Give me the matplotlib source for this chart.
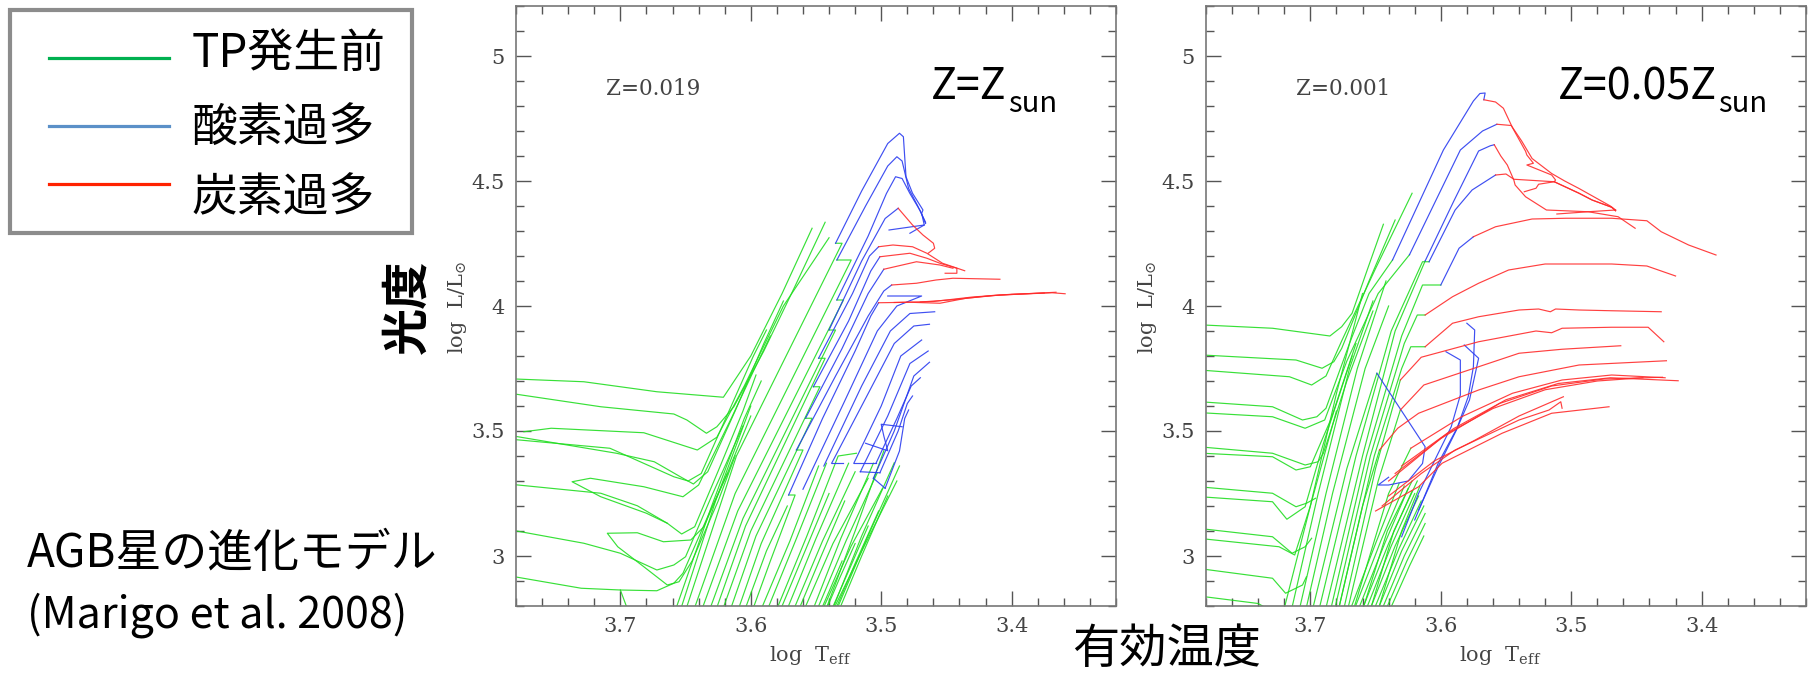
import matplotlib
matplotlib.use("Agg")
import matplotlib.pyplot as plt
from matplotlib.patches import Rectangle
from matplotlib.lines import Line2D
from matplotlib.ticker import MultipleLocator, FormatStrFormatter

W, H = 1810, 673
JP = ["Noto Sans CJK JP", "DejaVu Sans"]
SERIF = ["DejaVu Serif"]
plt.rcParams["mathtext.fontset"] = "dejavuserif"

GREEN = "#22dd22"
BLUE = "#2a3cf0"
RED = "#ff2b2b"

legend_labels = ["TP発生前", "酸素過多", "炭素過多"]
legend_colors = ["#00b050", "#5b90c8", "#ff2200"]
panel_tags = ["Z=0.019", "Z=0.001"]
panel_titles = ["Z=Z", "Z=0.05Z"]

# ---- Z = 0.019 : tracks as (log Teff, log L) vertices ----
solar_pre_tp = [
    [(3.790, 3.710), (3.728, 3.697), (3.672, 3.657), (3.621, 3.635), (3.600, 3.80), (3.576, 4.05), (3.553, 4.311)],
    [(3.790, 3.655), (3.715, 3.597), (3.659, 3.568), (3.649, 3.544), (3.634, 3.491), (3.626, 3.517), (3.613, 3.597),
     (3.590, 3.82), (3.566, 4.08), (3.543, 4.335)],
    [(3.774, 3.497), (3.753, 3.511), (3.682, 3.493), (3.641, 3.424), (3.626, 3.475), (3.605, 3.68), (3.575, 4.00), (3.540, 4.273)],
    [(3.790, 3.487), (3.703, 3.411), (3.674, 3.377), (3.654, 3.317), (3.644, 3.288), (3.633, 3.337), (3.612, 3.58),
     (3.590, 3.85), (3.575, 4.02)],
    [(3.790, 3.470), (3.708, 3.431), (3.659, 3.317), (3.648, 3.300), (3.638, 3.330), (3.615, 3.60), (3.598, 3.80), (3.588, 3.904)],
    [(3.790, 3.290), (3.715, 3.251), (3.687, 3.201), (3.664, 3.131), (3.653, 3.088), (3.643, 3.117), (3.625, 3.34),
     (3.606, 3.58), (3.596, 3.724)],
    [(3.585, 3.880), (3.597, 3.750), (3.615, 3.550), (3.640, 3.284), (3.652, 3.237), (3.682, 3.277), (3.723, 3.311),
     (3.737, 3.297), (3.715, 3.237), (3.680, 3.171), (3.664, 3.131)],
    [(3.790, 3.110), (3.728, 3.051), (3.700, 3.011), (3.672, 2.944), (3.659, 2.964), (3.650, 2.997), (3.630, 3.24),
     (3.612, 3.45), (3.606, 3.52)],
    [(3.600, 3.560), (3.618, 3.330), (3.636, 3.117), (3.646, 3.064), (3.667, 3.057), (3.687, 3.093), (3.710, 3.091),
     (3.702, 3.037), (3.682, 2.957), (3.664, 2.884), (3.655, 2.897), (3.645, 2.98), (3.625, 3.22), (3.612, 3.40)],
    [(3.790, 2.925), (3.730, 2.871), (3.700, 2.864), (3.672, 2.861), (3.659, 2.891), (3.652, 2.931), (3.632, 3.17), (3.618, 3.33)],
    [(3.700, 2.864), (3.694, 2.780)],
    # steep branches ending at the first pulse
    [(3.601, 2.75), (3.585, 2.98), (3.566, 3.244), (3.571, 3.244)],
    [(3.612, 2.75), (3.592, 3.05), (3.560, 3.424), (3.565, 3.424)],
    [(3.618, 2.75), (3.596, 3.08), (3.553, 3.551), (3.558, 3.551)],
    [(3.624, 2.75), (3.600, 3.10), (3.547, 3.677), (3.552, 3.677)],
    [(3.629, 2.75), (3.604, 3.12), (3.543, 3.791), (3.548, 3.791)],
    [(3.634, 2.75), (3.606, 3.15), (3.535, 3.904), (3.540, 3.904)],
    [(3.640, 2.75), (3.610, 3.18), (3.529, 4.024), (3.534, 4.024)],
    [(3.646, 2.75), (3.612, 3.25), (3.523, 4.184), (3.534, 4.184)],
    [(3.652, 2.75), (3.611, 3.40), (3.530, 4.251), (3.535, 4.251)],
    [(3.660, 2.75), (3.630, 3.20), (3.605, 3.55), (3.592, 3.70)],
    [(3.656, 2.75), (3.627, 3.22), (3.600, 3.60)],
    [(3.607, 2.75), (3.588, 3.02), (3.572, 3.20)],
    # low mass bundle
    [(3.595, 2.75), (3.570, 3.06), (3.548, 3.360)],
    [(3.590, 2.75), (3.565, 3.07), (3.542, 3.371)],
    [(3.583, 2.75), (3.557, 3.08), (3.533, 3.400), (3.519, 3.411)],
    [(3.575, 2.75), (3.550, 3.07), (3.525, 3.371)],
    [(3.570, 2.75), (3.545, 3.06), (3.520, 3.337)],
    [(3.562, 2.75), (3.537, 3.05), (3.510, 3.311)],
    [(3.555, 2.75), (3.531, 3.07), (3.506, 3.371)],
    [(3.552, 2.75), (3.527, 3.06), (3.503, 3.333)],
    [(3.548, 2.75), (3.523, 3.04), (3.499, 3.271)],
    [(3.545, 2.75), (3.520, 3.10), (3.498, 3.421)],
    [(3.540, 2.75), (3.515, 3.08), (3.490, 3.373)],
    [(3.537, 2.75), (3.511, 3.07), (3.486, 3.360)],
    [(3.540, 2.75), (3.513, 3.04), (3.488, 3.300)],
    [(3.535, 2.75), (3.515, 3.00), (3.495, 3.240)],
    [(3.538, 2.75), (3.520, 2.97), (3.502, 3.180)],
    [(3.541, 2.75), (3.525, 2.94), (3.510, 3.120)],
    [(3.545, 2.75), (3.532, 2.91), (3.520, 3.050)],
    [(3.549, 2.75), (3.539, 2.87), (3.530, 2.980)],
    [(3.580, 2.75), (3.560, 3.00), (3.540, 3.250)],
    [(3.566, 2.75), (3.546, 3.00), (3.528, 3.220)],
]

solar_o_rich = [
    [(3.571, 3.244), (3.545, 3.55), (3.520, 3.82), (3.508, 3.96), (3.502, 4.013)],
    [(3.565, 3.424), (3.535, 3.72), (3.510, 3.96), (3.498, 4.06), (3.492, 4.084)],
    [(3.558, 3.551), (3.530, 3.83), (3.510, 4.05), (3.498, 4.147)],
    [(3.552, 3.677), (3.525, 3.94), (3.508, 4.14), (3.501, 4.197)],
    [(3.548, 3.791), (3.522, 4.05), (3.509, 4.20), (3.502, 4.237)],
    [(3.540, 3.904), (3.515, 4.18), (3.497, 4.35), (3.487, 4.391)],
    [(3.534, 4.024), (3.510, 4.28), (3.496, 4.45), (3.489, 4.517), (3.484, 4.51), (3.478, 4.45), (3.470, 4.38), (3.466, 4.330)],
    [(3.534, 4.184), (3.512, 4.40), (3.495, 4.56), (3.488, 4.597), (3.484, 4.58), (3.479, 4.47), (3.472, 4.40), (3.466, 4.335)],
    [(3.535, 4.251), (3.515, 4.46), (3.495, 4.65), (3.486, 4.691), (3.483, 4.677), (3.481, 4.517), (3.476, 4.451),
     (3.468, 4.384), (3.469, 4.371), (3.467, 4.324), (3.494, 4.304)],
    [(3.478, 4.291), (3.467, 4.324)],
    [(3.560, 3.267), (3.528, 3.62), (3.503, 3.90), (3.488, 4.00), (3.469, 4.040), (3.495, 4.040)],
    [(3.544, 3.360), (3.515, 3.68), (3.493, 3.90), (3.478, 3.97), (3.459, 3.977)],
    [(3.538, 3.371), (3.510, 3.65), (3.490, 3.85), (3.475, 3.92), (3.463, 3.927)],
    [(3.521, 3.371), (3.500, 3.60), (3.485, 3.80), (3.469, 3.864)],
    [(3.516, 3.337), (3.495, 3.56), (3.478, 3.77), (3.464, 3.820)],
    [(3.506, 3.311), (3.490, 3.50), (3.475, 3.72), (3.463, 3.775)],
    [(3.504, 3.371), (3.488, 3.55), (3.477, 3.68), (3.470, 3.713)],
    [(3.501, 3.333), (3.487, 3.50), (3.480, 3.61), (3.476, 3.640)],
    [(3.497, 3.271), (3.486, 3.42), (3.482, 3.55), (3.479, 3.584)],
    [(3.512, 3.451), (3.495, 3.421), (3.498, 3.48), (3.500, 3.527), (3.484, 3.517)],
    [(3.538, 3.371), (3.529, 3.371)],
    [(3.521, 3.371), (3.504, 3.371)],
    [(3.516, 3.337), (3.501, 3.333)],
    [(3.506, 3.311), (3.497, 3.271)],
]

solar_c_rich = [
    [(3.502, 4.013), (3.478, 4.015), (3.455, 4.011), (3.435, 4.031), (3.409, 4.044), (3.369, 4.053), (3.359, 4.049)],
    [(3.490, 4.014), (3.460, 4.018), (3.430, 4.036), (3.400, 4.047), (3.375, 4.052)],
    [(3.470, 4.016), (3.445, 4.025), (3.415, 4.042), (3.385, 4.050), (3.366, 4.055)],
    [(3.492, 4.084), (3.473, 4.091), (3.458, 4.104), (3.445, 4.111), (3.409, 4.107)],
    [(3.498, 4.147), (3.473, 4.177), (3.455, 4.164), (3.445, 4.151)],
    [(3.501, 4.197), (3.478, 4.211), (3.465, 4.191), (3.455, 4.171), (3.442, 4.151), (3.442, 4.131), (3.451, 4.131)],
    [(3.502, 4.237), (3.491, 4.244), (3.476, 4.237), (3.465, 4.211), (3.453, 4.171), (3.436, 4.141)],
    [(3.487, 4.391), (3.476, 4.324), (3.468, 4.284), (3.460, 4.251), (3.459, 4.231), (3.464, 4.211)],
]

# ---- Z = 0.001 ----
poor_pre_tp = [
    [(3.790, 3.926), (3.729, 3.911), (3.685, 3.880), (3.676, 3.917), (3.668, 3.971), (3.656, 4.15), (3.644, 4.327)],
    [(3.790, 3.806), (3.711, 3.784), (3.691, 3.751), (3.682, 3.777), (3.676, 3.83), (3.655, 4.10), (3.635, 4.344)],
    [(3.790, 3.746), (3.716, 3.717), (3.699, 3.684), (3.688, 3.72), (3.676, 3.86), (3.650, 4.15), (3.622, 4.451)],
    [(3.790, 3.619), (3.729, 3.597), (3.706, 3.544), (3.695, 3.557), (3.688, 3.591), (3.670, 3.85), (3.655, 4.05), (3.637, 4.184)],
    [(3.790, 3.575), (3.729, 3.557), (3.704, 3.511), (3.689, 3.544), (3.672, 3.78), (3.648, 4.05), (3.624, 4.205)],
    [(3.790, 3.439), (3.729, 3.411), (3.704, 3.364), (3.694, 3.377), (3.690, 3.411), (3.672, 3.70), (3.652, 3.98)],
    [(3.790, 3.413), (3.729, 3.397), (3.711, 3.344), (3.700, 3.357), (3.684, 3.55), (3.665, 3.85)],
    [(3.790, 3.279), (3.729, 3.251), (3.711, 3.197), (3.703, 3.211), (3.696, 3.231)],
    [(3.790, 3.239), (3.729, 3.217), (3.718, 3.147), (3.704, 3.197), (3.690, 3.45), (3.668, 3.80)],
    [(3.790, 3.113), (3.729, 3.077), (3.714, 3.011), (3.704, 3.037), (3.699, 3.071)],
    [(3.790, 3.073), (3.724, 3.037), (3.712, 3.004), (3.700, 3.20), (3.680, 3.58)],
    [(3.790, 2.953), (3.729, 2.911), (3.719, 2.851), (3.706, 2.884), (3.703, 2.917)],
    [(3.790, 2.843), (3.740, 2.810), (3.730, 2.780)],
    [(3.690, 2.75), (3.660, 3.40), (3.635, 3.90), (3.612, 4.180)],
    [(3.695, 2.75), (3.665, 3.40), (3.638, 3.90), (3.614, 4.177), (3.609, 4.177)],
    [(3.686, 2.75), (3.657, 3.40), (3.630, 3.88), (3.614, 4.084), (3.600, 4.084)],
    [(3.683, 2.75), (3.654, 3.40), (3.628, 3.85), (3.618, 3.964), (3.612, 3.964)],
    [(3.680, 2.75), (3.651, 3.40), (3.630, 3.75), (3.623, 3.837), (3.612, 3.837)],
    [(3.676, 2.75), (3.650, 3.35), (3.631, 3.704)],
    [(3.673, 2.75), (3.648, 3.30), (3.631, 3.584)],
    [(3.700, 2.75), (3.672, 3.35), (3.649, 3.731)],
    [(3.680, 2.75), (3.660, 3.20), (3.647, 3.424)],
    [(3.669, 2.75), (3.640, 3.25), (3.623, 3.431)],
    [(3.722, 2.75), (3.700, 3.20), (3.680, 3.65), (3.660, 4.05)],
    [(3.716, 2.75), (3.694, 3.25), (3.670, 3.75), (3.652, 4.02)],
    [(3.710, 2.75), (3.688, 3.25), (3.664, 3.75), (3.642, 4.10)],
    [(3.705, 2.75), (3.683, 3.25), (3.658, 3.75), (3.640, 4.00)],
    # low mass bundle
    [(3.672, 2.75), (3.650, 3.05), (3.632, 3.29)],
    [(3.669, 2.75), (3.646, 3.06), (3.628, 3.28)],
    [(3.666, 2.75), (3.643, 3.05), (3.625, 3.27)],
    [(3.663, 2.75), (3.640, 3.05), (3.622, 3.26)],
    [(3.660, 2.75), (3.638, 3.04), (3.620, 3.25)],
    [(3.657, 2.75), (3.635, 3.04), (3.617, 3.24)],
    [(3.654, 2.75), (3.632, 3.03), (3.615, 3.22)],
    [(3.651, 2.75), (3.630, 3.02), (3.613, 3.20)],
    [(3.648, 2.75), (3.628, 3.00), (3.612, 3.17)],
    [(3.645, 2.75), (3.626, 2.98), (3.612, 3.13)],
    [(3.642, 2.75), (3.624, 2.96), (3.613, 3.08)],
    [(3.662, 2.75), (3.641, 3.10), (3.622, 3.30)],
    [(3.656, 2.75), (3.636, 3.10), (3.618, 3.30)],
    [(3.650, 2.75), (3.630, 3.10), (3.616, 3.28)],
]

poor_o_rich = [
    [(3.637, 4.184), (3.598, 4.624), (3.575, 4.820), (3.570, 4.850), (3.566, 4.852), (3.567, 4.825)],
    [(3.624, 4.205), (3.585, 4.624), (3.568, 4.700), (3.557, 4.727)],
    [(3.612, 4.180), (3.590, 4.420), (3.571, 4.620), (3.562, 4.641), (3.559, 4.645)],
    [(3.609, 4.177), (3.589, 4.384), (3.576, 4.464), (3.558, 4.524)],
    [(3.600, 4.084), (3.586, 4.231), (3.575, 4.277)],
    [(3.649, 3.731), (3.612, 3.437), (3.614, 3.370), (3.625, 3.300), (3.640, 3.284), (3.648, 3.284), (3.640, 3.315)],
    [(3.596, 3.817), (3.585, 3.784), (3.585, 3.644), (3.592, 3.517), (3.602, 3.411), (3.617, 3.251), (3.630, 3.077)],
    [(3.580, 3.931), (3.574, 3.904), (3.575, 3.757), (3.579, 3.637), (3.588, 3.504), (3.602, 3.357), (3.617, 3.184)],
    [(3.582, 3.844), (3.571, 3.791), (3.578, 3.624), (3.587, 3.517), (3.602, 3.371), (3.620, 3.144)],
]

poor_c_rich = [
    [(3.567, 4.825), (3.558, 4.816), (3.552, 4.791), (3.545, 4.713), (3.535, 4.619), (3.534, 4.604), (3.529, 4.571),
     (3.534, 4.564), (3.515, 4.524), (3.512, 4.504), (3.513, 4.497), (3.494, 4.451), (3.484, 4.424), (3.469, 4.395), (3.466, 4.381)],
    [(3.557, 4.727), (3.546, 4.722), (3.538, 4.660), (3.530, 4.590), (3.515, 4.530), (3.505, 4.500), (3.494, 4.470),
     (3.470, 4.400), (3.466, 4.384)],
    [(3.559, 4.645), (3.554, 4.600), (3.549, 4.564), (3.544, 4.504), (3.543, 4.484), (3.535, 4.437), (3.519, 4.384),
     (3.487, 4.377), (3.466, 4.384)],
    [(3.558, 4.524), (3.550, 4.528), (3.544, 4.507), (3.513, 4.497), (3.494, 4.451), (3.484, 4.424), (3.469, 4.395), (3.466, 4.381)],
    [(3.536, 4.457), (3.527, 4.471), (3.525, 4.487), (3.513, 4.497)],
    [(3.511, 4.368), (3.487, 4.377), (3.464, 4.357), (3.451, 4.311)],
    [(3.575, 4.277), (3.558, 4.317), (3.530, 4.348), (3.504, 4.351), (3.469, 4.351), (3.442, 4.341), (3.431, 4.297),
     (3.410, 4.244), (3.389, 4.204)],
    [(3.612, 3.964), (3.591, 4.037), (3.571, 4.091), (3.548, 4.144), (3.520, 4.168), (3.494, 4.168), (3.469, 4.168),
     (3.442, 4.160), (3.420, 4.120)],
    [(3.612, 3.837), (3.591, 3.931), (3.571, 3.957), (3.540, 3.984), (3.525, 3.988), (3.516, 3.977), (3.512, 3.988),
     (3.494, 3.984), (3.469, 3.981), (3.431, 3.977)],
    [(3.631, 3.704), (3.615, 3.795), (3.571, 3.857), (3.527, 3.900), (3.515, 3.893), (3.507, 3.911), (3.469, 3.915),
     (3.441, 3.915), (3.429, 3.857)],
    [(3.631, 3.584), (3.613, 3.684), (3.571, 3.757), (3.540, 3.811), (3.507, 3.827), (3.462, 3.841)],
    [(3.647, 3.424), (3.633, 3.511), (3.617, 3.571), (3.571, 3.664), (3.540, 3.717), (3.494, 3.764), (3.427, 3.781)],
    [(3.623, 3.431), (3.584, 3.557), (3.545, 3.651), (3.507, 3.704), (3.469, 3.724), (3.428, 3.713)],
    [(3.630, 3.360), (3.590, 3.510), (3.550, 3.625), (3.510, 3.690), (3.470, 3.713), (3.418, 3.701)],
    [(3.640, 3.300), (3.600, 3.470), (3.555, 3.610), (3.515, 3.680), (3.475, 3.708), (3.430, 3.715)],
    [(3.635, 3.330), (3.595, 3.490), (3.560, 3.590), (3.520, 3.665), (3.480, 3.700), (3.445, 3.713)],
    [(3.645, 3.200), (3.615, 3.330), (3.589, 3.424), (3.540, 3.544), (3.517, 3.584), (3.508, 3.617), (3.507, 3.591)],
    [(3.640, 3.240), (3.605, 3.380), (3.575, 3.460), (3.540, 3.560), (3.506, 3.637)],
    [(3.650, 3.180), (3.617, 3.277), (3.599, 3.371), (3.553, 3.491), (3.515, 3.571), (3.471, 3.597)],
]


def fx(x):
    return x / W


def fy(y):
    return 1 - y / H


def draw_panel(ax, pre_tp, o_rich, c_rich, tag):
    """ Draws the three families of tracks and styles the HR diagram axes """
    for track, color in [(pre_tp, GREEN), (o_rich, BLUE), (c_rich, RED)]:
        for t in track:
            teff, lum = zip(*t)
            ax.plot(teff, lum, color=color, lw=0.85, alpha=0.9, solid_joinstyle="round")

    ax.set_xlim(3.78, 3.32)
    ax.set_ylim(2.8, 5.2)
    ax.xaxis.set_major_locator(MultipleLocator(0.1))
    ax.xaxis.set_minor_locator(MultipleLocator(0.02))
    ax.yaxis.set_major_locator(MultipleLocator(0.5))
    ax.yaxis.set_minor_locator(MultipleLocator(0.1))
    ax.xaxis.set_major_formatter(FormatStrFormatter("%g"))
    ax.yaxis.set_major_formatter(FormatStrFormatter("%g"))
    ax.tick_params(which="both", direction="in", top=True, right=True, color="#555555",
                   labelcolor="#444444", labelsize=15, width=1.0)
    ax.tick_params(which="major", length=11, pad=8)
    ax.tick_params(which="minor", length=5.5)
    for lab in ax.get_xticklabels() + ax.get_yticklabels():
        lab.set_family(SERIF)
    for sp in ax.spines.values():
        sp.set_color("#777777")
        sp.set_linewidth(1.2)

    ax.set_xlabel(r"log  T$_{\rm eff}$", family=SERIF, fontsize=15, color="#444444")
    ax.xaxis.set_label_coords(0.49, -0.063)
    ax.set_ylabel(r"log  L/L$_{\odot}$", family=SERIF, fontsize=15, color="#444444")
    ax.yaxis.set_label_coords(-0.078, 0.498)
    ax.text(0.15, 0.861, tag, transform=ax.transAxes, family=SERIF, fontsize=15.5,
            color="#444444", ha="left", va="center")


fig = plt.figure(figsize=(W / 100, H / 100), dpi=100)

ax_l = fig.add_axes([fx(516), fy(606), 600 / W, 600 / H])
ax_r = fig.add_axes([fx(1206), fy(606), 600 / W, 600 / H])
draw_panel(ax_l, solar_pre_tp, solar_o_rich, solar_c_rich, panel_tags[0])
draw_panel(ax_r, poor_pre_tp, poor_o_rich, poor_c_rich, panel_tags[1])

# panel titles, "sun" set as a subscript right after the main text
fig.canvas.draw()
renderer = fig.canvas.get_renderer()
for x0, title in zip([931, 1558], panel_titles):
    t = fig.text(fx(x0), fy(99), title, family=JP, fontsize=31, va="baseline", ha="left")
    bb = t.get_window_extent(renderer)
    fig.text((bb.x1 + 1) / W, fy(112), "sun", family=JP, fontsize=21, va="baseline", ha="left")

# big axis captions
fig.text(fx(408), fy(307), "光度", family=JP, fontsize=34, fontweight="bold",
         rotation=90, ha="center", va="center")
fig.text(fx(1167), fy(663), "有効温度", family=JP, fontsize=34, ha="center", va="baseline")

# legend box
fig.patches.append(Rectangle((fx(10), fy(233)), 402 / W, 223 / H, transform=fig.transFigure,
                             facecolor="white", edgecolor="#8c8c8c", lw=3.0))
for i, (label, color) in enumerate(zip(legend_labels, legend_colors)):
    ly = [58, 126, 184][i]
    ty = [54, 129, 198][i]
    fig.lines.append(Line2D([fx(49), fx(169)], [fy(ly), fy(ly)], transform=fig.transFigure,
                            color=color, lw=2.3))
    fig.text(fx(192), fy(ty), label, family=JP, fontsize=33, ha="left", va="center")

# model credit
fig.text(fx(27), fy(554), "AGB星の進化モデル", family=JP, fontsize=33, ha="left", va="center")
fig.text(fx(27), fy(615), "(Marigo et al. 2008)", family=JP, fontsize=31, ha="left", va="center")

fig.savefig("out.png", dpi=100)
